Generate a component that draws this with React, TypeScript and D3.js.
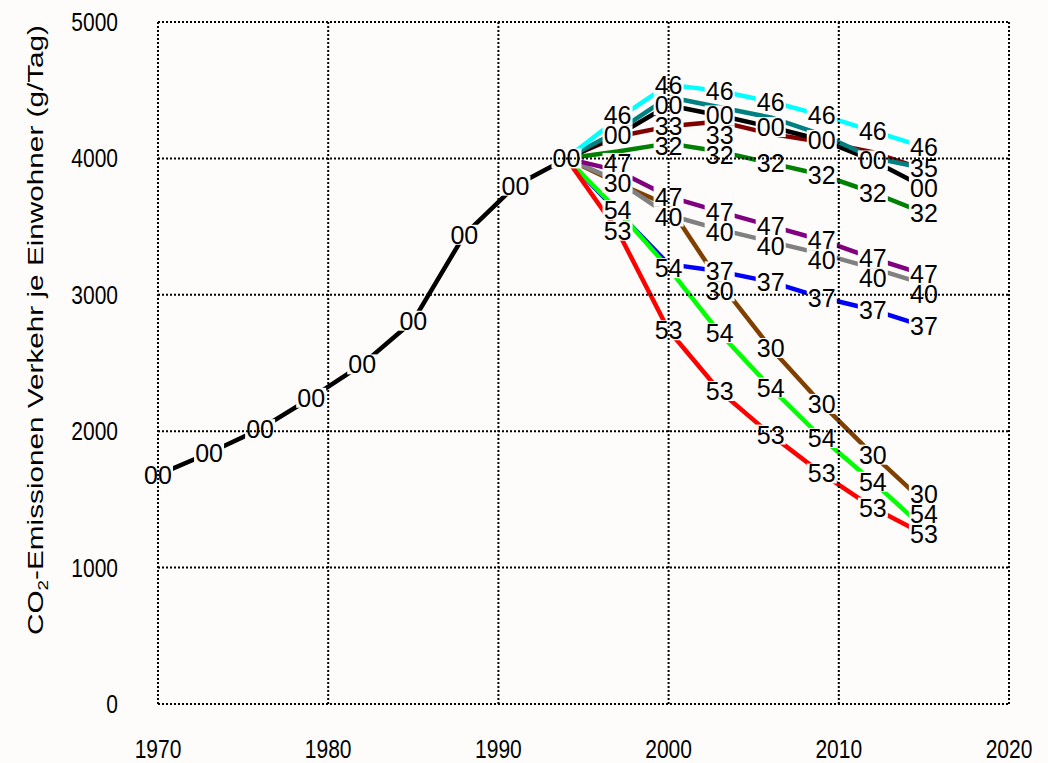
import React from "react";
import * as d3 from "d3";

const W = 1048;
const H = 763;

// x: years, y: CO2 g/Tag
const xTicks = [1970, 1980, 1990, 2000, 2010, 2020];
const yTicks = [0, 1000, 2000, 3000, 4000, 5000];

const mainYears = [1970, 1973, 1976, 1979, 1982, 1985, 1988, 1991, 1994];
const mainValues = [1680, 1840, 2015, 2245, 2490, 2810, 3440, 3800, 4000];

const scenarioYears = [1994, 1997, 2000, 2003, 2006, 2009, 2012, 2015];
const cyanValues = [4000, 4290, 4540, 4495, 4415, 4317, 4200, 4085];
const tealValues = [4000, 4200, 4450, 4375, 4300, 4175, 4005, 3930];
const blackValues = [4000, 4170, 4390, 4315, 4230, 4135, 3985, 3790];
const maroonValues = [4000, 4160, 4235, 4270, 4180, 4120, 4045, 3920];
const greenValues = [4000, 4050, 4110, 4050, 3965, 3880, 3750, 3600];
const purpleValues = [4000, 3910, 3720, 3610, 3505, 3400, 3268, 3150];
const grayValues = [4000, 3835, 3585, 3480, 3390, 3300, 3195, 3080];
const brownValues = [4000, 3820, 3655, 3090, 2610, 2200, 1828, 1482];
const blueValues = [4000, 3610, 3225, 3172, 3095, 2980, 2890, 2770];
const limeValues = [4000, 3620, 3195, 2720, 2320, 1950, 1630, 1290];
const redValues = [4000, 3470, 2740, 2295, 1975, 1690, 1440, 1245];

const allScenarioLabelYears = [1997, 2000, 2003, 2006, 2009, 2012, 2015];

type Series = {
  key: string;
  label: string;
  color: string;
  years: number[];
  values: number[];
  labelYears: number[];
};

const series: Series[] = [
  { key: "blue", label: "37", color: "#0000ff", years: scenarioYears, values: blueValues, labelYears: [2003, 2006, 2009, 2012, 2015] },
  { key: "lime", label: "54", color: "#00ff00", years: scenarioYears, values: limeValues, labelYears: allScenarioLabelYears },
  { key: "red", label: "53", color: "#ff0000", years: scenarioYears, values: redValues, labelYears: allScenarioLabelYears },
  { key: "brown", label: "30", color: "#804000", years: scenarioYears, values: brownValues, labelYears: [1997, 2003, 2006, 2009, 2012, 2015] },
  { key: "gray", label: "40", color: "#808080", years: scenarioYears, values: grayValues, labelYears: [2000, 2003, 2006, 2009, 2012, 2015] },
  { key: "purple", label: "47", color: "#800080", years: scenarioYears, values: purpleValues, labelYears: allScenarioLabelYears },
  { key: "green", label: "32", color: "#008000", years: scenarioYears, values: greenValues, labelYears: [2000, 2003, 2006, 2009, 2012, 2015] },
  { key: "maroon", label: "33", color: "#800000", years: scenarioYears, values: maroonValues, labelYears: [2000, 2003] },
  {
    key: "black",
    label: "00",
    color: "#000000",
    years: mainYears.concat(scenarioYears.slice(1)),
    values: mainValues.concat(blackValues.slice(1)),
    labelYears: mainYears.concat(allScenarioLabelYears),
  },
  { key: "teal", label: "35", color: "#008080", years: scenarioYears, values: tealValues, labelYears: [2015] },
  { key: "cyan", label: "46", color: "#00ffff", years: scenarioYears, values: cyanValues, labelYears: allScenarioLabelYears },
];

// order in which labels claim their place
const labelPriority = ["teal", "black", "cyan", "maroon", "green", "red", "lime", "blue", "brown", "purple", "gray"];

const BG = "#fdfcfa";
const FONT = "Arial, 'Liberation Sans', Helvetica, sans-serif";

export default function App() {
  const x = d3.scaleLinear().domain([1970, 2020]).range([158, 1009]);
  const y = d3.scaleLinear().domain([0, 5000]).range([704, 22]);

  const pathFor = (s: Series) =>
    d3
      .line<number>()
      .x((_, i) => x(s.years[i]))
      .y((v) => y(v))(s.values) || "";

  // label placement (avoid overlaps at the same year)
  const labelH = 20;
  const labelFont = 25;
  type Lab = { key: string; text: string; x: number; y: number };
  const labels: Lab[] = [];
  const byYear = new Map<number, { key: string; text: string; y: number }[]>();
  series.forEach((s) => {
    s.labelYears.forEach((yr) => {
      const idx = s.years.indexOf(yr);
      if (idx < 0) return;
      if (!byYear.has(yr)) byYear.set(yr, []);
      byYear.get(yr)!.push({ key: s.key, text: s.label, y: y(s.values[idx]) });
    });
  });
  byYear.forEach((items, yr) => {
    const sorted = items.slice().sort((a, b) => labelPriority.indexOf(a.key) - labelPriority.indexOf(b.key));
    const placed: number[] = [];
    sorted.forEach((it) => {
      const cands = [it.y];
      placed.forEach((p) => {
        cands.push(p - labelH, p + labelH);
      });
      const free = cands.filter((c) => placed.every((p) => Math.abs(c - p) >= labelH - 0.01));
      free.sort((a, b) => Math.abs(a - it.y) - Math.abs(b - it.y));
      const ly = free.length ? free[0] : it.y;
      placed.push(ly);
      labels.push({ key: it.key, text: it.text, x: x(yr), y: ly });
    });
  });

  const gridStyle = { stroke: "#000", strokeWidth: 2, strokeDasharray: "2,2" };

  return (
    <svg
      width={W}
      height={H}
      style={{ position: "absolute", left: 0, top: 0, display: "block", background: BG }}
      fontFamily={FONT}
    >
      <rect x={0} y={0} width={W} height={H} fill={BG} />
      {/* lines */}
      {series.map((s) => (
        <path key={s.key} d={pathFor(s)} fill="none" stroke={s.color} strokeWidth={4.5} strokeLinejoin="round" />
      ))}
      {/* label backgrounds */}
      {labels.map((l, i) => (
        <rect key={"lb" + i} x={l.x - 15} y={l.y - labelH / 2} width={30} height={labelH} fill={BG} />
      ))}
      {/* grid */}
      {xTicks.map((t) => (
        <line key={"gx" + t} x1={x(t)} x2={x(t)} y1={y(0)} y2={y(5000)} {...gridStyle} />
      ))}
      {yTicks.map((t) => (
        <line key={"gy" + t} x1={x(1970)} x2={x(2020)} y1={y(t)} y2={y(t)} {...gridStyle} />
      ))}
      {/* point labels */}
      {labels.map((l, i) => (
        <text
          key={"lt" + i}
          x={l.x}
          y={l.y + labelFont * 0.36}
          textAnchor="middle"
          fontSize={labelFont}
          fill="#000"
        >
          {l.text}
        </text>
      ))}
      {/* y tick labels */}
      {yTicks.map((t) => (
        <text
          key={"yt" + t}
          transform={`translate(118, ${y(t) + 9}) scale(1, 1.2)`}
          textAnchor="end"
          fontSize={21}
          fill="#000"
        >
          {t}
        </text>
      ))}
      {/* x tick labels */}
      {xTicks.map((t) => (
        <text
          key={"xt" + t}
          transform={`translate(${x(t)}, 758) scale(1, 1.25)`}
          textAnchor="middle"
          fontSize={21}
          fill="#000"
        >
          {t}
        </text>
      ))}
      {/* y axis title */}
      <text
        transform={`translate(43, 330) rotate(-90)`}
        textAnchor="middle"
        fontSize={22}
        textLength={610}
        lengthAdjust="spacingAndGlyphs"
        fill="#000"
      >
        CO
        <tspan fontSize={14} dy={5}>2</tspan>
        <tspan dy={-5}>-Emissionen Verkehr je Einwohner (g/Tag)</tspan>
      </text>
    </svg>
  );
}
